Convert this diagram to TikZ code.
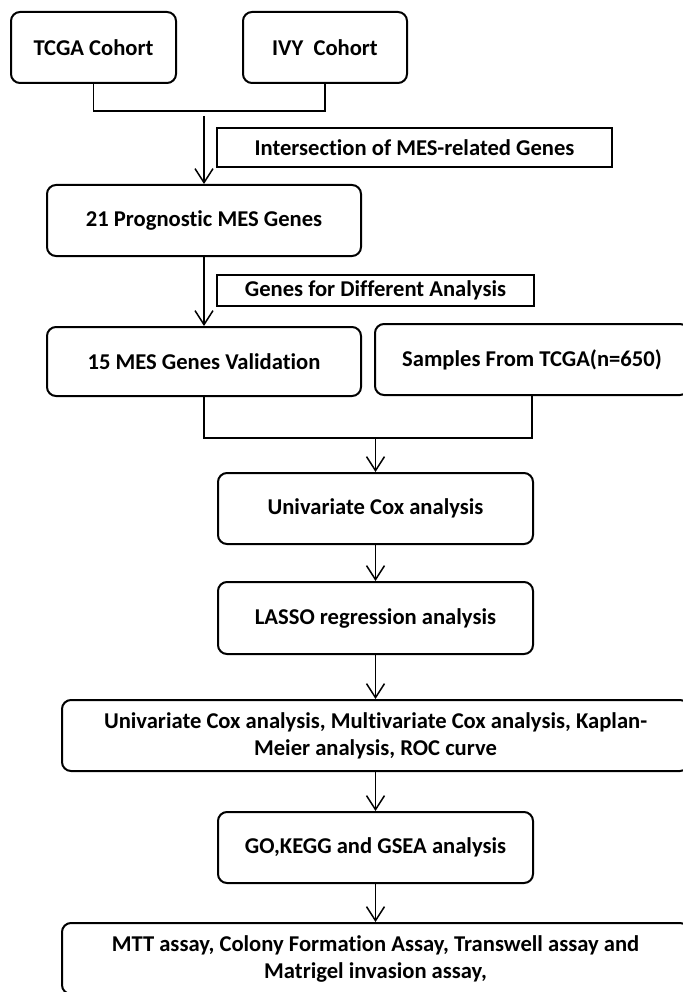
\documentclass[tikz,border=0pt]{standalone}
\usepackage{fontspec}
\setmainfont[Ligatures=NoCommon]{Carlito}
\usetikzlibrary{arrows.meta}

\begin{document}
\begin{tikzpicture}[x=1pt,y=-1pt,
  box/.style={draw, line width=2pt, rounded corners=9pt, inner sep=0pt, align=center,
    minimum width=315pt, minimum height=71pt, font=\fontsize{22.6}{27}\selectfont\bfseries},
  wide/.style={box, minimum width=627pt},
  tag/.style={draw, line width=2pt, inner sep=0pt, font=\fontsize{22.6}{27}\selectfont\bfseries},
  link/.style={line width=1.5pt},
  flow/.style={line width=1.5pt, -{Straight Barb[length=14pt,width=18pt,line width=1.5pt]}}]
\useasboundingbox (0,0) rectangle (682,992);
% cohorts
\node[box, minimum width=165pt] (tcga) at (93.5,47.5) {TCGA Cohort};
\node[box, minimum width=164pt] (ivy) at (325,47.5) {IVY\ \ Cohort};
\coordinate (m1) at (211,111);
\coordinate (a1) at (204,116);
\node[tag, minimum width=395pt, minimum height=39pt] (inter) at (414.5,147.5) {Intersection of MES-related Genes};
\node[box, minimum width=314pt] (prog) at (204,220.5) {21 Prognostic MES Genes};
\node[tag, minimum width=317pt, minimum height=31pt] (diff) at (375.5,290.5) {Genes for Different Analysis};
\node[box, minimum width=314pt, minimum height=69pt] (valid) at (204,361.5) {15 MES Genes Validation};
\node[box, minimum width=314pt] (samples) at (532,359.5) {Samples From TCGA(n=650)};
\coordinate (m2) at (375.5,438);
% analysis steps
\node[box] (unicox) at (375.5,508.5) {Univariate Cox analysis};
\node[box, minimum height=72pt] (lasso) at (375.5,618) {LASSO regression analysis};
\node[wide] (surv) at (375.5,735.5) {Univariate Cox analysis, Multivariate Cox analysis, Kaplan-\\Meier analysis, ROC curve};
\node[box] (enrich) at (375.5,847.5) {GO,KEGG and GSEA analysis};
\node[wide] (assay) at (375.5,958.5) {MTT assay, Colony Formation Assay, Transwell assay and\\Matrigel invasion assay,};

\draw[link] (tcga.south) |- (m1) -| (ivy.south);
\draw[flow] (a1) -- (prog.north);
\draw[flow] (prog.south) -- (valid.north);
\draw[link] (valid.south) |- (m2) -| (samples.south);
\draw[flow] (m2) -- (unicox.north);
\draw[flow] (unicox.south) -- (lasso.north);
\draw[flow] (lasso.south) -- (surv.north);
\draw[flow] (surv.south) -- (enrich.north);
\draw[flow] (enrich.south) -- (assay.north);
\end{tikzpicture}
\end{document}
